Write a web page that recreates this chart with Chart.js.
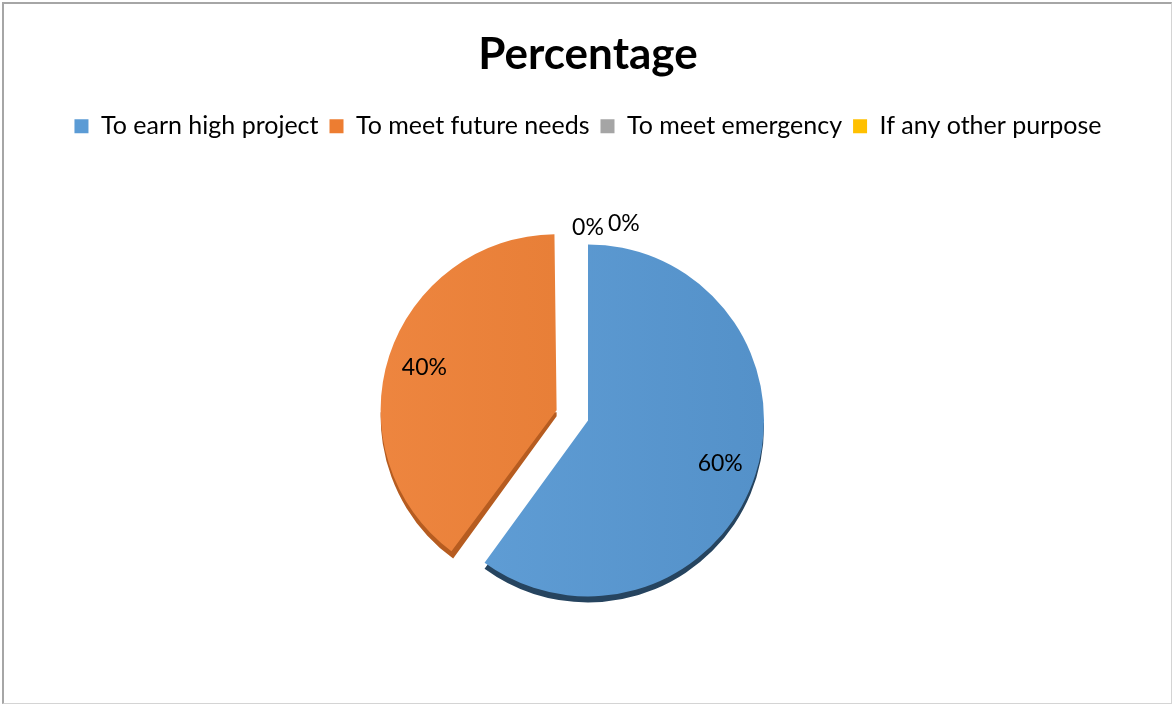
<!DOCTYPE html>
<html>
<head>
<meta charset="utf-8">
<title>Percentage</title>
<script src="https://cdn.jsdelivr.net/npm/chart.js@4/dist/chart.umd.min.js"></script>
<style>
  html, body { margin: 0; padding: 0; background: #ffffff; }
  #wrap { position: relative; width: 1173px; height: 705px; overflow: hidden; }
  #chart { position: absolute; left: 0; top: 0; }
  #frame {
    position: absolute; left: 2px; top: 2px; width: 1167px; height: 699px;
    border-style: solid; border-width: 2px 1px 1px 2px;
    border-color: #a6a6a6 #d4d4d4 #d4d4d4 #a6a6a6;
    pointer-events: none;
  }
</style>
</head>
<body>
<div id="wrap">
  <canvas id="chart" width="1173" height="705"></canvas>
  <div id="frame"></div>
</div>
<script>
// Share of respondents by purpose of saving
const categories = ['To earn high project', 'To meet future needs', 'To meet emergency', 'If any other purpose'];
const percentages = [60, 40, 0, 0];
const sliceColors = ['#5B9BD5', '#ED7D31', '#A5A5A5', '#FFC000'];
const sliceColorsLight = ['#62A0D8', '#EE8640', '#AEAEAE', '#FFC61A'];
const sliceColorsDark = ['#5390C8', '#E2782F', '#9A9A9A', '#F0B400'];
const sideColors = ['#26445F', '#B65C20', '#6E6E6E', '#B58800'];
// Chart.js moves an arc out by a quarter of its offset option
const explode = [0, 132, 0, 0];

const FONT = 'Lato, "Open Sans", "Liberation Sans", sans-serif';

// fills each slice with a soft left-to-right shading
function shadedFill(ctx) {
  const chart = ctx.chart;
  const area = chart.chartArea;
  const i = ctx.dataIndex;
  if (!area) return sliceColors[i];
  const g = chart.ctx.createLinearGradient(area.left + area.width / 2 - 200, 0, area.left + area.width / 2 + 200, 0);
  g.addColorStop(0, sliceColorsLight[i]);
  g.addColorStop(1, sliceColorsDark[i]);
  return g;
}

// how much Chart.js widens an exploded arc's radius while drawing it
function radiusGrowth(arc) {
  const off = (arc.options.offset || 0) / 4;
  const circ = arc.circumference || (arc.endAngle - arc.startAngle);
  return off * (1 - Math.sin(Math.min(Math.PI, circ || 0)));
}

function arcGeometry(arc) {
  const p = arc.getProps(['x', 'y', 'startAngle', 'endAngle', 'outerRadius'], true);
  const off = (arc.options.offset || 0) / 4;
  const mid = (p.startAngle + p.endAngle) / 2;
  return {
    cx: p.x + Math.cos(mid) * off,
    cy: p.y + Math.sin(mid) * off,
    start: p.startAngle, end: p.endAngle,
    r: p.outerRadius + radiusGrowth(arc), mid: mid
  };
}

// keep exploded slices the same size as the others
const keepRadiusPlugin = {
  id: 'keepRadius',
  afterDatasetsUpdate(chart) {
    chart.getDatasetMeta(0).data.forEach((arc) => {
      const grow = radiusGrowth(arc);
      if (grow > 0) arc.outerRadius -= grow;
    });
  }
};

// darker slab under the lower half of each slice for the raised look
const slabPlugin = {
  id: 'slab',
  beforeDatasetsDraw(chart) {
    const ctx = chart.ctx;
    const meta = chart.getDatasetMeta(0);
    meta.data.forEach((arc, i) => {
      if (!percentages[i]) return;
      const g = arcGeometry(arc);
      ctx.save();
      ctx.beginPath();
      ctx.rect(0, g.cy + 2, chart.width, chart.height);
      ctx.clip();
      ctx.fillStyle = sideColors[i];
      ctx.beginPath();
      ctx.moveTo(g.cx, g.cy + 6);
      ctx.arc(g.cx, g.cy + 6, g.r, g.start, g.end);
      ctx.closePath();
      ctx.fill();
      ctx.restore();
    });
  }
};

// percentage labels on each slice; empty slices are labelled just outside the rim
const valueLabelPlugin = {
  id: 'valueLabels',
  afterDatasetsDraw(chart) {
    const ctx = chart.ctx;
    const meta = chart.getDatasetMeta(0);
    ctx.save();
    ctx.font = '23px ' + FONT;
    ctx.fillStyle = '#000000';
    ctx.textAlign = 'center';
    ctx.textBaseline = 'middle';
    let zeroX = null;
    meta.data.forEach((arc, i) => {
      const g = arcGeometry(arc);
      const text = percentages[i] + '%';
      if (percentages[i] > 0) {
        const d = g.r * 0.79;
        ctx.fillText(text, g.cx + Math.cos(g.mid) * d, g.cy + Math.sin(g.mid) * d);
      } else {
        const w = ctx.measureText(text).width;
        const y = g.cy + Math.sin(g.mid) * (g.r + 17);
        if (zeroX === null) {
          zeroX = g.cx + Math.cos(g.mid) * (g.r + 17);
        } else {
          zeroX += w + 4;
        }
        ctx.fillText(text, zeroX, y - (zeroX > g.cx + 1 ? 4 : 0));
      }
    });
    ctx.restore();
  }
};

new Chart(document.getElementById('chart'), {
  type: 'pie',
  data: {
    labels: categories,
    datasets: [{
      data: percentages,
      backgroundColor: shadedFill,
      borderWidth: 0,
      offset: explode,
      hoverOffset: 0
    }]
  },
  options: {
    responsive: false,
    animation: false,
    radius: 176,
    layout: { padding: { left: 3, right: 0, top: 0, bottom: 13 } },
    plugins: {
      title: {
        display: true,
        text: 'Percentage',
        color: '#000000',
        font: { family: FONT, size: 44, weight: 'bold' },
        padding: { top: 28, bottom: 22 }
      },
      legend: {
        display: true,
        position: 'top',
        labels: {
          color: '#000000',
          font: { family: FONT, size: 25 },
          boxWidth: 14,
          boxHeight: 14,
          padding: 11,
          generateLabels(chart) {
            return categories.map((c, i) => ({
              text: c,
              fillStyle: sliceColors[i],
              strokeStyle: sliceColors[i],
              lineWidth: 0,
              hidden: false,
              index: i
            }));
          }
        }
      },
      tooltip: { enabled: false }
    }
  },
  plugins: [keepRadiusPlugin, slabPlugin, valueLabelPlugin]
});
</script>
</body>
</html>
